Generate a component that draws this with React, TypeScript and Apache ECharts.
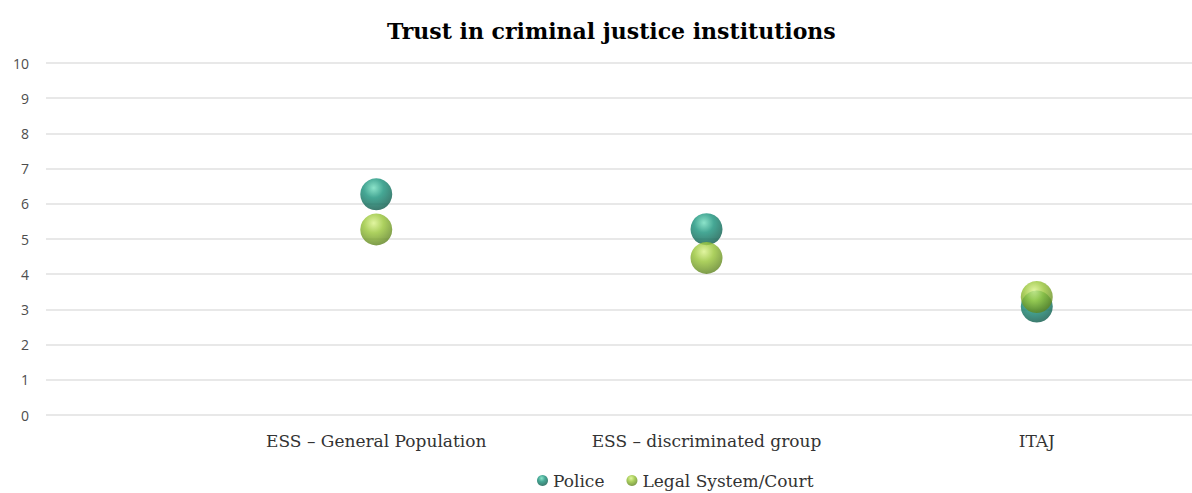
import React, { useEffect, useRef } from "react";
import * as echarts from "echarts";

const categories = ["ESS – General Population", "ESS – discriminated group", "ITAJ"];
const policeValues = [6.27, 5.28, 3.08];
const courtValues = [5.27, 4.46, 3.35];
const seriesNames = ["Police", "Legal System/Court"];
const yTicks = [0, 1, 2, 3, 4, 5, 6, 7, 8, 9, 10];

const sphere = (light: string, mid: string, dark: string) => ({
  type: "radial",
  x: 0.42,
  y: 0.3,
  r: 0.78,
  colorStops: [
    { offset: 0, color: light },
    { offset: 0.4, color: mid },
    { offset: 1, color: dark },
  ],
});

export default function App() {
  const ref = useRef<HTMLDivElement>(null);
  useEffect(() => {
    if (!ref.current) return;
    const chart = echarts.init(ref.current, undefined, { renderer: "svg" });
    const policeColor = sphere("#6fdcbc", "#17917a", "#0a4e40");
    const courtColor = sphere("#d9f288", "#97c436", "#52761a");
    chart.setOption({
      animation: false,
      backgroundColor: "#ffffff",
      title: {
        text: "Trust in criminal justice institutions",
        left: 382,
        top: 15,
        textStyle: {
          fontFamily: "DejaVu Serif",
          fontWeight: "bold",
          fontSize: 22,
          color: "#000000",
        },
      },
      legend: {
        top: 470,
        left: 535,
        padding: 2,
        itemGap: 22,
        itemWidth: 11,
        itemHeight: 11,
        icon: "circle",
        textStyle: { fontFamily: "DejaVu Serif", fontSize: 17, color: "#333333" },
        data: seriesNames,
      },
      grid: { left: 46, right: 0, top: 63, bottom: 78 },
      xAxis: {
        type: "value",
        min: 0,
        max: 3.47,
        interval: 1,
        splitLine: { show: false },
        axisLine: { show: false },
        axisTick: { show: false },
        axisLabel: {
          showMaxLabel: false,
          margin: 17,
          fontFamily: "DejaVu Serif",
          fontSize: 17,
          color: "#333333",
          formatter: (v: number) => (v >= 1 && v <= categories.length && Number.isInteger(v) ? categories[v - 1] : ""),
        },
      },
      yAxis: {
        type: "value",
        min: yTicks[0],
        max: yTicks[yTicks.length - 1],
        interval: 1,
        axisLine: { show: false },
        axisTick: { show: false },
        axisLabel: { fontFamily: "Open Sans", fontSize: 14, color: "#4d4d4d", margin: 17 },
        splitLine: { lineStyle: { color: "#e1e1e1", width: 1.5 } },
      },
      series: [
        {
          name: seriesNames[0],
          type: "scatter",
          symbol: "circle",
          symbolSize: 32,
          itemStyle: { color: policeColor },
          data: policeValues.map((v, i) => [i + 1, v]),
        },
        {
          name: seriesNames[1],
          type: "scatter",
          symbol: "circle",
          symbolSize: 32,
          itemStyle: { color: courtColor },
          data: courtValues.map((v, i) => [i + 1, v]),
        },
      ],
    });
    return () => chart.dispose();
  }, []);
  return <div ref={ref} style={{ position: "absolute", left: 0, top: 0, width: 1192, height: 493 }} />;
}
